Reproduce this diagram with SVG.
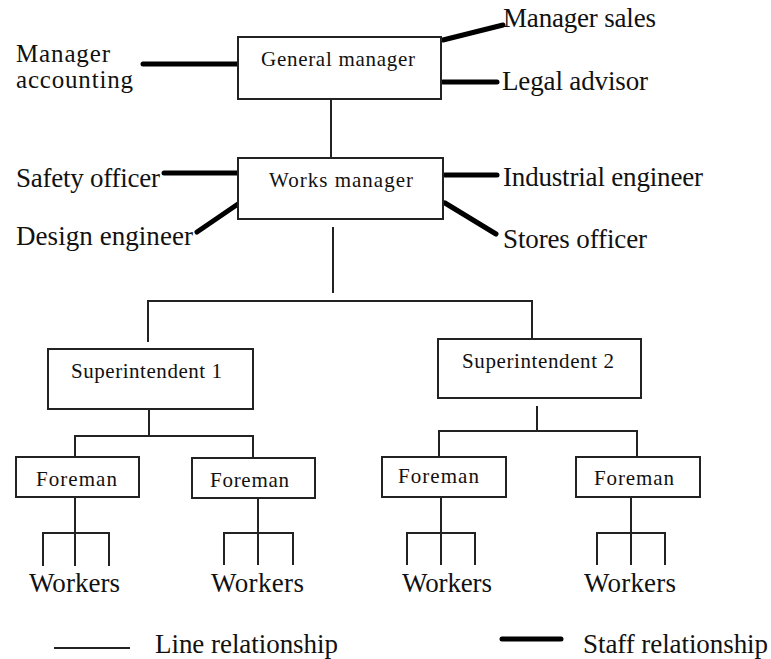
<svg xmlns="http://www.w3.org/2000/svg" width="771" height="659" viewBox="0 0 771 659">
<style>
  .box { fill: #fff; stroke: #222; stroke-width: 2; }
  .thin { stroke: #222; stroke-width: 2; fill: none; }
  .thick { stroke: #000; stroke-width: 5; stroke-linecap: round; fill: none; }
  .bt { font-family: "Liberation Serif", "Times New Roman", serif; font-size: 21px; fill: #111; }
  .lt { font-family: "Liberation Serif", "Times New Roman", serif; font-size: 27px; fill: #111; }
  .st { font-family: "Liberation Serif", "Times New Roman", serif; font-size: 25px; fill: #111; }
</style>
<rect width="771" height="659" fill="#fff"/>
<g id="connectors">
  <line class="thin" x1="331" y1="99" x2="331" y2="158"/>
  <line class="thin" x1="333" y1="227" x2="333" y2="293"/>
  <polyline class="thin" points="148,342 148,301 532,301 532,339"/>
  <line class="thin" x1="149" y1="409" x2="149" y2="436"/>
  <polyline class="thin" points="75,457 75,436 253,436 253,458"/>
  <line class="thin" x1="537" y1="406" x2="537" y2="431"/>
  <polyline class="thin" points="439,457 439,431 637,431 637,457"/>
  <line class="thin" x1="75" y1="497" x2="75" y2="566"/>
  <polyline class="thin" points="43,566 43,533 109,533 109,566"/>
  <line class="thin" x1="258" y1="498" x2="258" y2="565"/>
  <polyline class="thin" points="224,565 224,533 293,533 293,565"/>
  <line class="thin" x1="441" y1="497" x2="441" y2="565"/>
  <polyline class="thin" points="407,565 407,533 475,533 475,565"/>
  <line class="thin" x1="631" y1="497" x2="631" y2="565"/>
  <polyline class="thin" points="597,565 597,533 665,533 665,565"/>
  <line class="thick" x1="143" y1="64" x2="240" y2="64"/>
  <line class="thick" x1="443" y1="40" x2="503" y2="25"/>
  <line class="thick" x1="443" y1="82" x2="497" y2="82"/>
  <line class="thick" x1="164" y1="173" x2="238" y2="173"/>
  <line class="thick" x1="197" y1="232" x2="238" y2="204"/>
  <line class="thick" x1="445" y1="175" x2="497" y2="175"/>
  <line class="thick" x1="445" y1="203" x2="496" y2="234"/>
</g>
<g id="general-manager">
  <rect class="box" x="238" y="37" width="203" height="62"/>
  <text class="bt" x="261" y="66" textLength="154">General manager</text>
</g>
<g id="works-manager">
  <rect class="box" x="238" y="158" width="205" height="61"/>
  <text class="bt" x="269" y="187" textLength="144">Works manager</text>
</g>
<g id="superintendent-1">
  <rect class="box" x="48" y="349" width="205" height="60"/>
  <text class="bt" x="71" y="378" textLength="151">Superintendent 1</text>
</g>
<g id="superintendent-2">
  <rect class="box" x="438" y="339" width="203" height="59"/>
  <text class="bt" x="462" y="368" textLength="152">Superintendent 2</text>
</g>
<g id="foreman-1">
  <rect class="box" x="16" y="457" width="123" height="40"/>
  <text class="bt" x="36" y="486" textLength="81">Foreman</text>
</g>
<g id="foreman-2">
  <rect class="box" x="192" y="458" width="123" height="40"/>
  <text class="bt" x="210" y="487" textLength="79">Foreman</text>
</g>
<g id="foreman-3">
  <rect class="box" x="382" y="457" width="124" height="40"/>
  <text class="bt" x="398" y="483" textLength="81">Foreman</text>
</g>
<g id="foreman-4">
  <rect class="box" x="576" y="457" width="124" height="40"/>
  <text class="bt" x="594" y="485" textLength="80">Foreman</text>
</g>
<g id="workers-1"><text class="lt" x="29" y="592" textLength="91">Workers</text></g>
<g id="workers-2"><text class="lt" x="211" y="592" textLength="93">Workers</text></g>
<g id="workers-3"><text class="lt" x="402" y="592" textLength="90">Workers</text></g>
<g id="workers-4"><text class="lt" x="584" y="592" textLength="92">Workers</text></g>
<g id="manager-accounting">
  <text class="st" x="16" y="62" textLength="94">Manager</text>
  <text class="st" x="16" y="88" textLength="117">accounting</text>
</g>
<g id="manager-sales"><text class="lt" x="503" y="27" textLength="153">Manager sales</text></g>
<g id="legal-advisor"><text class="lt" x="502" y="90" textLength="146">Legal advisor</text></g>
<g id="safety-officer"><text class="lt" x="16" y="187" textLength="144">Safety officer</text></g>
<g id="design-engineer"><text class="lt" x="16" y="245" textLength="177">Design engineer</text></g>
<g id="industrial-engineer"><text class="lt" x="503" y="186" textLength="200">Industrial engineer</text></g>
<g id="stores-officer"><text class="lt" x="503" y="248" textLength="144">Stores officer</text></g>
<g id="legend">
  <line class="thin" x1="54" y1="648" x2="130" y2="648"/>
  <text class="lt" x="155" y="653" textLength="183">Line relationship</text>
  <line class="thick" x1="502" y1="639" x2="561" y2="639"/>
  <text class="lt" x="583" y="653" textLength="185">Staff relationship</text>
</g>
</svg>
